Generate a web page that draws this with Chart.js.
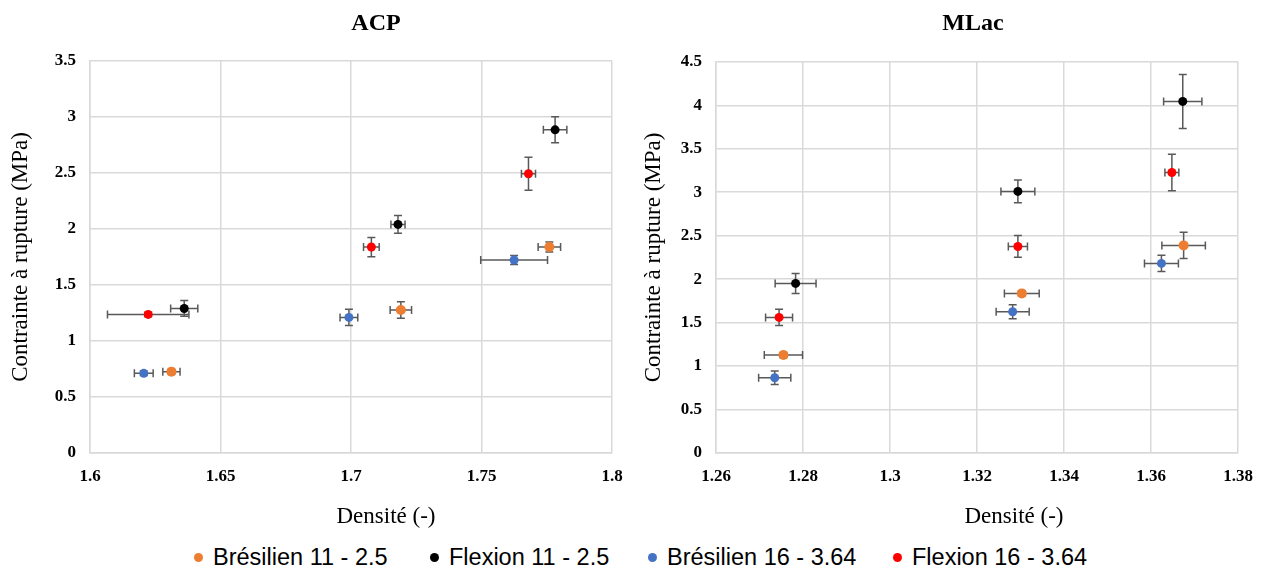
<!DOCTYPE html>
<html>
<head>
<meta charset="utf-8">
<script src="https://cdn.jsdelivr.net/npm/chart.js@4.4.1/dist/chart.umd.min.js"></script>
<style>
  html, body { margin: 0; padding: 0; background: #fff; }
  #page { position: relative; width: 1265px; height: 572px; overflow: hidden; }
  .box { position: absolute; top: 0; height: 535px; }
  #leftBox { left: 0; width: 635px; }
  #rightBox { left: 635px; width: 630px; }
  #legend {
    position: absolute; left: 0; top: 541px; width: 1265px; height: 32px;
    font-family: "Liberation Sans", Arial, sans-serif; font-size: 23.5px; color: #000;
  }
  .item { position: absolute; top: 0; height: 32px; display: flex; align-items: center; white-space: nowrap; }
  .dot { width: 9px; height: 9px; border-radius: 50%; margin-right: 10px; }
</style>
</head>
<body>
<div id="page">
  <div class="box" id="leftBox"><canvas id="acpChart"></canvas></div>
  <div class="box" id="rightBox"><canvas id="mlacChart"></canvas></div>
  <div id="legend"></div>
</div>
<script>
// séries (ordre de la légende)
const seriesNames = ["Brésilien 11 - 2.5", "Flexion 11 - 2.5", "Brésilien 16 - 3.64", "Flexion 16 - 3.64"];
const seriesColors = ["#ED7D31", "#000000", "#4472C4", "#FF0000"];
const pointSizes = [5, 4.5, 4.5, 4.5];

// ACP : [densité, contrainte, erreur densité, erreur contrainte]
const acpBresilien11 = [[1.6312, 0.726, 0.0033, 0.02], [1.7191, 1.276, 0.0041, 0.074], [1.7760, 1.838, 0.0043, 0.045]];
const acpFlexion11 = [[1.6361, 1.290, 0.0052, 0.07], [1.7180, 2.040, 0.0027, 0.08], [1.7782, 2.884, 0.0045, 0.116]];
const acpBresilien16 = [[1.6206, 0.711, 0.0036, 0.02], [1.6992, 1.210, 0.0034, 0.073], [1.7625, 1.722, 0.0128, 0.04]];
const acpFlexion16 = [[1.6223, 1.237, 0.0156, 0.02], [1.7078, 1.838, 0.0030, 0.086], [1.7680, 2.492, 0.0027, 0.147]];

// MLac
const mlacBresilien11 = [[1.2755, 1.127, 0.0044, 0.03], [1.3303, 1.836, 0.0040, 0.03], [1.3675, 2.388, 0.0050, 0.15]];
const mlacFlexion11 = [[1.2783, 1.951, 0.0047, 0.115], [1.3294, 3.009, 0.0039, 0.13], [1.3673, 4.044, 0.0044, 0.31]];
const mlacBresilien16 = [[1.2735, 0.866, 0.0037, 0.077], [1.3282, 1.625, 0.0038, 0.08], [1.3624, 2.181, 0.0039, 0.094]];
const mlacFlexion16 = [[1.2745, 1.560, 0.0031, 0.094], [1.3294, 2.376, 0.0022, 0.125], [1.3648, 3.227, 0.0016, 0.209]];

// graduations
const acpXTicks = [1.6, 1.65, 1.7, 1.75, 1.8];
const acpYTicks = [0, 0.5, 1, 1.5, 2, 2.5, 3, 3.5];
const mlacXTicks = [1.26, 1.28, 1.3, 1.32, 1.34, 1.36, 1.38];
const mlacYTicks = [0, 0.5, 1, 1.5, 2, 2.5, 3, 3.5, 4, 4.5];

// position gauche (px) de chaque entrée de légende
const legendLeft = [194, 430, 648, 893];

// plugin : barres d'erreur (x et y) dessinées sous les marqueurs
const errorBars = {
  id: "errorBars",
  beforeDatasetsDraw(chart) {
    const { ctx, scales: { x, y } } = chart;
    const cap = 4;
    ctx.save();
    ctx.strokeStyle = "#595959";
    ctx.lineWidth = 1.5;
    chart.data.datasets.forEach((ds) => {
      ds.data.forEach((p) => {
        const px = x.getPixelForValue(p.x);
        const py = y.getPixelForValue(p.y);
        const x1 = x.getPixelForValue(p.x - p.dx);
        const x2 = x.getPixelForValue(p.x + p.dx);
        const y1 = y.getPixelForValue(p.y - p.dy);
        const y2 = y.getPixelForValue(p.y + p.dy);
        ctx.beginPath();
        ctx.moveTo(x1, py); ctx.lineTo(x2, py);
        ctx.moveTo(x1, py - cap); ctx.lineTo(x1, py + cap);
        ctx.moveTo(x2, py - cap); ctx.lineTo(x2, py + cap);
        ctx.moveTo(px, y1); ctx.lineTo(px, y2);
        ctx.moveTo(px - cap, y1); ctx.lineTo(px + cap, y1);
        ctx.moveTo(px - cap, y2); ctx.lineTo(px + cap, y2);
        ctx.stroke();
      });
    });
    ctx.restore();
  },
};

// plugin : décale le titre du graphique et le titre de l'axe X
const titleShift = {
  id: "titleShift",
  afterLayout(chart, args, opts) {
    chart.titleBlock.left = chart.chartArea.left + opts.title;
    chart.titleBlock.right = chart.chartArea.right + opts.title;
    const sx = chart.scales.x;
    if (!sx._shiftWrapped) {
      const drawTitle = sx.drawTitle.bind(sx);
      sx.drawTitle = function () {
        this.left += opts.axis; this.right += opts.axis;
        drawTitle();
        this.left -= opts.axis; this.right -= opts.axis;
      };
      sx._shiftWrapped = true;
    }
  },
};

function toPoints(rows) {
  return rows.map((r) => ({ x: r[0], y: r[1], dx: r[2], dy: r[3] }));
}

function makeDatasets(seriesRows) {
  return seriesRows.map((rows, i) => ({
    label: seriesNames[i],
    data: toPoints(rows),
    backgroundColor: seriesColors[i],
    borderColor: seriesColors[i],
    pointRadius: pointSizes[i],
    pointHoverRadius: pointSizes[i],
    borderWidth: 0,
  }));
}

const serif = "'Liberation Serif', 'Times New Roman', serif";
const tickFont = { family: serif, size: 17, weight: "bold" };
const axisTitleFont = { family: serif, size: 23 };
const gridStyle = { color: "#d9d9d9", lineWidth: 1.5, drawTicks: false };

function makeChart(canvasId, title, datasets, xTicks, yTicks, cfg) {
  return new Chart(document.getElementById(canvasId), {
    type: "scatter",
    data: { datasets: datasets },
    plugins: [errorBars, titleShift],
    options: {
      responsive: true,
      maintainAspectRatio: false,
      animation: false,
      layout: { padding: { left: 0, right: cfg.padRight, top: 0, bottom: 0 } },
      scales: {
        x: {
          type: "linear",
          min: xTicks[0],
          max: xTicks[xTicks.length - 1],
          afterBuildTicks: (s) => { s.ticks = xTicks.map((v) => ({ value: v })); },
          afterFit: (s) => { s.height = 82; s.paddingRight = 0; },
          grid: gridStyle,
          border: { color: "#d9d9d9", width: 1.5 },
          ticks: { font: tickFont, color: "#000", padding: 13, maxRotation: 0, callback: (v) => String(v) },
          title: { display: true, text: "Densité (-)", font: axisTitleFont, color: "#000", padding: { top: 0, bottom: 4 } },
        },
        y: {
          min: yTicks[0],
          max: yTicks[yTicks.length - 1],
          afterBuildTicks: (s) => { s.ticks = yTicks.map((v) => ({ value: v })); },
          afterFit: (s) => { s.width = cfg.yWidth; },
          grid: gridStyle,
          border: { color: "#d9d9d9", width: 1.5 },
          ticks: { font: tickFont, color: "#000", padding: 14, callback: (v) => String(v) },
          title: { display: true, text: "Contrainte à rupture (MPa)", font: axisTitleFont, color: "#000", padding: { top: cfg.yTitlePad, bottom: 0 } },
        },
      },
      plugins: {
        legend: { display: false },
        tooltip: { enabled: false },
        title: {
          display: true,
          text: title,
          color: "#000",
          font: { family: serif, size: 24, weight: "bold" },
          padding: { top: 9, bottom: cfg.titlePadBottom },
        },
        titleShift: { title: cfg.titleShift, axis: cfg.axisShift },
      },
    },
  });
}

const acpChart = makeChart("acpChart", "ACP",
  makeDatasets([acpBresilien11, acpFlexion11, acpBresilien16, acpFlexion16]),
  acpXTicks, acpYTicks,
  { yWidth: 90, padRight: 23, titlePadBottom: 23, titleShift: 25, axisShift: 35, yTitlePad: 7 });

const mlacChart = makeChart("mlacChart", "MLac",
  makeDatasets([mlacBresilien11, mlacFlexion11, mlacBresilien16, mlacFlexion16]),
  mlacXTicks, mlacYTicks,
  { yWidth: 81, padRight: 27, titlePadBottom: 24, titleShift: -4, axisShift: 37, yTitlePad: 5 });

// légende commune (texte HTML)
const legendEl = document.getElementById("legend");
seriesNames.forEach((name, i) => {
  const item = document.createElement("div");
  item.className = "item";
  item.style.left = legendLeft[i] + "px";
  const dot = document.createElement("span");
  dot.className = "dot";
  dot.style.background = seriesColors[i];
  const label = document.createElement("span");
  label.textContent = name;
  item.appendChild(dot);
  item.appendChild(label);
  legendEl.appendChild(item);
});
</script>
</body>
</html>
